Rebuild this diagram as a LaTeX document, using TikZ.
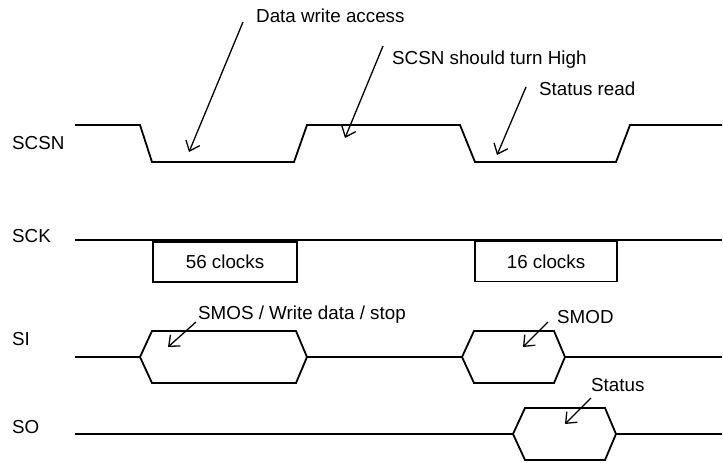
\documentclass[tikz,border=0pt]{standalone}
\usepackage{fontspec}
\setmainfont{Liberation Sans}
\usetikzlibrary{positioning, arrows.meta, calc}

\begin{document}
\begin{tikzpicture}[x=1pt, y=-1pt, font=\fontsize{18.8}{22}\selectfont,
  wave/.style={line width=1.8pt, line join=miter},
  pointer/.style={line width=1.3pt, -{Straight Barb[length=9pt, width=15pt, line width=1.3pt]}},
  lbl/.style={anchor=base west, inner sep=0pt},
  clkbox/.style={draw, line width=1.8pt, minimum width=144pt, minimum height=40pt, inner sep=0pt}]
\useasboundingbox (0,0) rectangle (723,463);
\pgfmathsetmacro{\hi}{125}
\pgfmathsetmacro{\lo}{162}
\pgfmathsetmacro{\sck}{240}
\pgfmathsetmacro{\si}{357}
\pgfmathsetmacro{\so}{434}

\node[lbl] (scsn) at (12,149.5) {SCSN};
\node[lbl] (sck) at (12,242) {SCK};
\node[lbl] (si) at (12,345) {SI};
\node[lbl] (so) at (12,433) {SO};

\draw[wave] (75,\hi) -- (140,\hi) -- (152,\lo) -- (294,\lo) -- (307,\hi) -- (460,\hi) -- (475,\lo) -- (616,\lo) -- (630,\hi) -- (722,\hi);
\draw[wave] (75,\sck) -- (722,\sck);
\draw[wave] (75,\si) -- (140,\si) (307,\si) -- (462,\si) (565,\si) -- (722,\si);
\draw[wave] (75,\so) -- (513,\so) (616,\so) -- (722,\so);
\foreach \l/\r/\m in {140/307/\si, 462/565/\si, 513/616/\so}
  \draw[wave] (\l,\m) -- ++(12,-26) -- (\r-11,\m-26) -- (\r,\m) -- (\r-11,\m+26) -- (\l+12,\m+26) -- cycle;

\node[clkbox] (clkA) at (225,262) {56 clocks};
\node[clkbox, minimum width=142pt] (clkB) at (546,261.5) {16 clocks};

\node[lbl] (dwa) at (256,22) {Data write access};
\node[lbl] (shigh) at (392,64) {SCSN should turn High};
\node[lbl] (sread) at (539,95) {Status read};
\node[lbl] (smos) at (198,319) {SMOS / Write data / stop};
\node[lbl] (smod) at (557,323) {SMOD};
\node[lbl] (stat) at (591,391) {Status};

\coordinate (dwaTail) at (243,22);
\coordinate (dwaTip) at (189,152);
\coordinate (shighTail) at (383,46);
\coordinate (shighTip) at (345,138);
\coordinate (sreadTail) at (526,87);
\coordinate (sreadTip) at (497,155);
\coordinate (smosTail) at (196,322);
\coordinate (smosTip) at (168,347);
\coordinate (smodTail) at (548,322);
\coordinate (smodTip) at (523,347);
\coordinate (statTail) at (591,398);
\coordinate (statTip) at (565,424);
\foreach \n in {dwa, shigh, sread, smos, smod, stat}
  \draw[pointer] (\n Tail) -- (\n Tip);
\end{tikzpicture}
\end{document}
